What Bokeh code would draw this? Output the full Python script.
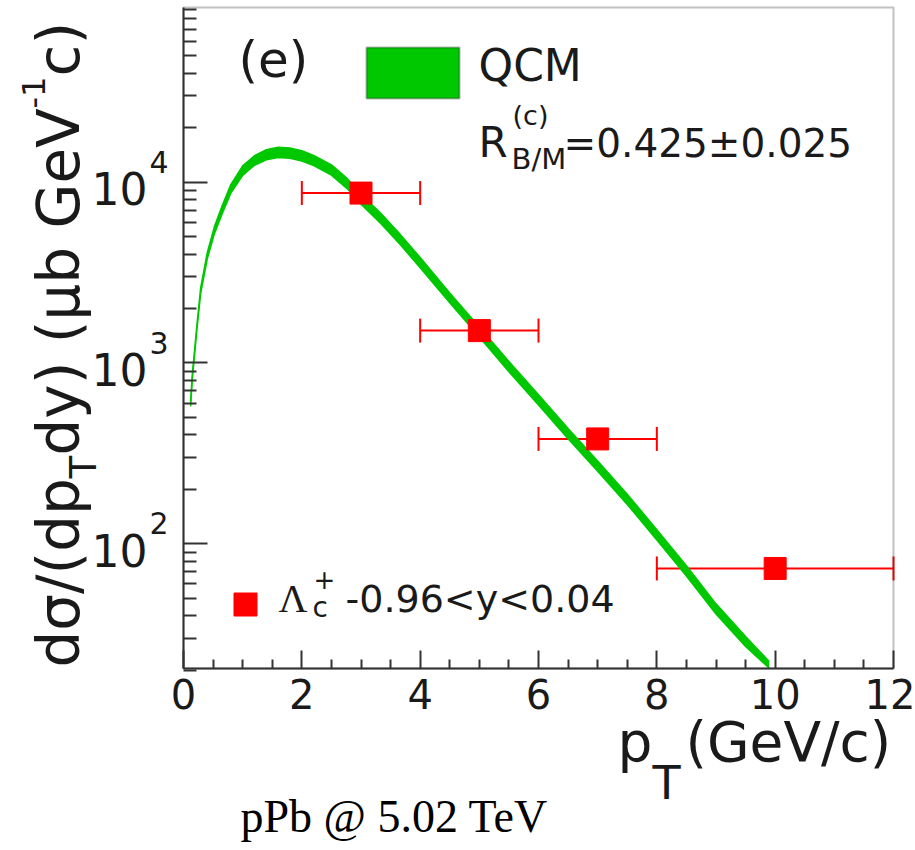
import math
from bokeh.plotting import figure
from bokeh.models import (ColumnDataSource, FixedTicker, CustomJSTickFormatter, Label,
                          BoxAnnotation, Whisker, TeeHead, Range1d)
from bokeh.embed import file_html
from bokeh.resources import INLINE

# ---------------- data ----------------
lambda_c_pt = [3.0, 5.0, 7.0, 10.0]
lambda_c_pt_low = [2.0, 4.0, 6.0, 8.0]
lambda_c_pt_high = [4.0, 6.0, 8.0, 12.0]
lambda_c_xsec = [8700.0, 1510.0, 380.0, 73.0]

qcm_pt = [0.12, 0.15, 0.18, 0.22, 0.29, 0.40, 0.52, 0.65, 0.80, 1.0, 1.2, 1.4, 1.6,
          1.8, 2.0, 2.2, 2.5, 2.77, 3.0, 3.33, 3.67, 4.0, 4.5, 5.0, 5.5,
          6.0, 6.5, 7.0, 7.5, 8.0, 8.5, 9.0, 9.5, 9.9]
qcm_low = [575, 825, 1043, 1455, 2420, 3745, 5160, 6650, 8700, 10900, 12400, 13280,
           13700, 13560, 13090, 12340, 10940, 9180, 7540, 5930, 4490, 3360, 2150,
           1390, 895, 585, 381, 252, 165, 105, 66.3, 40.9, 27.0, 20.5]
qcm_high = [611, 875, 1107, 1545, 2600, 4055, 5640, 7350, 9700, 12300, 14000, 15120,
            15600, 15440, 14910, 14060, 12460, 10460, 8590, 6750, 5110, 3830, 2440,
            1580, 1020, 666, 434, 287, 188, 119.5, 75.5, 46.5, 30.7, 22.3]

x_ticks = [0, 2, 4, 6, 8, 10, 12]
x_minor_ticks = [0.5, 1.0, 1.5, 2.5, 3.0, 3.5, 4.5, 5.0, 5.5, 6.5, 7.0, 7.5,
                 8.5, 9.0, 9.5, 10.5, 11.0, 11.5]
y_tick_exponents = [2, 3, 4]
y_minor_mantissas = [2, 3, 4, 5, 6, 7, 8, 9]

# ---------------- layout (pixel geometry of the reference) ----------------
W, H = 915, 850
FL, FR, FT, FB = 183, 893, 7, 668          # axes box
X0, X1 = 0.0, 12.0
DECADE_PX = 180.8
LOG_TOP = 4.966
LOG_BOT = LOG_TOP - (FB - FT) / DECADE_PX
BASE_FIX = 0.38                            # em shift of Label's alphabetic baseline

GREEN = "#00c800"
RED = "#ff0000"
TXT = "#1a1a1a"
AX = "#333333"
SANS = "DejaVu Sans"


def dx(px):
    return X0 + (px - FL) / (FR - FL) * (X1 - X0)


def dy(py):
    return 10 ** (LOG_TOP - (py - FT) / DECADE_PX)


def py_of(v):
    return FT + (LOG_TOP - math.log10(v)) * DECADE_PX


# the frame covers the whole canvas so that every text can sit anywhere
p = figure(width=W, height=H, title=None, toolbar_location=None, output_backend="svg",
           y_axis_type="log", x_range=Range1d(dx(0), dx(W)),
           y_range=Range1d(dy(H), dy(0)),
           min_border_left=0, min_border_right=0, min_border_top=0, min_border_bottom=0)
p.background_fill_color = "white"
p.border_fill_color = "white"
p.outline_line_color = None
p.grid.visible = False

# x axis
xa = p.xaxis[0]
xa.fixed_location = 10 ** LOG_BOT
xa.bounds = (X0, X1)
xa.ticker = FixedTicker(ticks=x_ticks, minor_ticks=x_minor_ticks)
xa.major_tick_in = 18
xa.major_tick_out = 0
xa.minor_tick_in = 9
xa.minor_tick_out = 0
xa.axis_line_color = AX
xa.axis_line_width = 2
xa.major_tick_line_color = AX
xa.major_tick_line_width = 2
xa.minor_tick_line_color = AX
xa.minor_tick_line_width = 2
xa.major_label_text_font = SANS
xa.major_label_text_font_size = "40px"
xa.major_label_text_color = TXT
xa.major_label_standoff = 10

# y axis
ya = p.yaxis[0]
ya.fixed_location = X0
ya.bounds = (10 ** LOG_BOT, 10 ** LOG_TOP)
y_major = [10 ** e for e in y_tick_exponents]
y_minor = [m * 10 ** e for e in [1] + y_tick_exponents for m in y_minor_mantissas]
ya.ticker = FixedTicker(ticks=y_major, minor_ticks=y_minor)
ya.formatter = CustomJSTickFormatter(code="return ''")
ya.major_tick_in = 24
ya.major_tick_out = 0
ya.minor_tick_in = 13
ya.minor_tick_out = 0
ya.axis_line_color = AX
ya.axis_line_width = 2
ya.major_tick_line_color = AX
ya.major_tick_line_width = 2
ya.minor_tick_line_color = AX
ya.minor_tick_line_width = 2
ya.major_label_standoff = 0

# axes box
p.add_layout(BoxAnnotation(left=X0, right=X1, bottom=10 ** LOG_BOT, top=10 ** LOG_TOP,
                           fill_color=None, line_color=AX, line_width=2))


def label(text, px, py, size, font=SANS, style="normal", angle=0.0, align="left", color=TXT):
    if angle == 0.0:
        py = py - BASE_FIX * size
    else:
        px = px - BASE_FIX * size
    p.add_layout(Label(x=dx(px), y=dy(py), text=text, text_font=font,
                       text_font_size=f"{size}px", text_font_style=style,
                       text_color=color, text_align=align, text_baseline="alphabetic",
                       angle=angle))


# y tick labels 10^n
for e in y_tick_exponents:
    ty = py_of(10 ** e)
    label("10", 147, ty + 23, 44, align="right")
    label(str(e), 149, ty - 9, 30)

# ---------------- QCM band ----------------
qsrc = ColumnDataSource(dict(x=qcm_pt, lo=qcm_low, hi=qcm_high))
p.varea(x="x", y1="lo", y2="hi", source=qsrc, fill_color=GREEN)
p.line(x="x", y="lo", source=qsrc, line_color=GREEN, line_width=1.5)
p.line(x="x", y="hi", source=qsrc, line_color=GREEN, line_width=1.5)

# ---------------- data points ----------------
dsrc = ColumnDataSource(dict(x=lambda_c_pt, y=lambda_c_xsec,
                             xlo=lambda_c_pt_low, xhi=lambda_c_pt_high))
wh = Whisker(source=dsrc, base="y", lower="xlo", upper="xhi", dimension="width",
             line_color=RED, line_width=2,
             lower_head=TeeHead(size=24, line_color=RED, line_width=2),
             upper_head=TeeHead(size=24, line_color=RED, line_width=2))
p.add_layout(wh)
p.scatter(x="x", y="y", source=dsrc, marker="square", size=22,
          fill_color=RED, line_color=RED)

# ---------------- legends / annotations ----------------
p.add_layout(BoxAnnotation(left=dx(366), right=dx(459), top=dy(47), bottom=dy(98),
                           fill_color=GREEN, fill_alpha=1.0, line_color="#111111",
                           line_width=2))
label("(e)", 238, 78, 50)
label("QCM", 478, 82, 44)
label("R", 478, 158, 42)
label("(c)", 512, 125, 27)
label("B/M", 511, 170, 29)
label("=0.425\u00b10.025", 563, 158, 39)

p.scatter(x=[dx(245)], y=[dy(604)], marker="square", size=23,
          fill_color=RED, line_color=RED)
label("\u039b", 278, 613, 40, font="Liberation Serif")
label("c", 312, 618, 28)
label("+", 313, 588, 26)
label("-0.96<y<0.04", 345, 613, 38)

# x axis title
label("p", 617, 762, 55)
label("T", 652, 800, 46)
label("(GeV/c)", 685, 762, 55)

# y axis title (rotated)
ROT = math.pi / 2
label("d\u03c3/(dp", 81, 667, 58, angle=ROT)
label("T", 97, 478, 37, angle=ROT)
label("dy) (\u03bcb GeV", 81, 455, 58, angle=ROT)
label("-1", 45, 108, 32, angle=ROT)
label("c)", 81, 76, 58, angle=ROT)

# caption below
label("pPb @ 5.02 TeV", 240, 833, 46, font="Liberation Serif", color="#000000")

open("out.html", "w").write(file_html(p, INLINE))
